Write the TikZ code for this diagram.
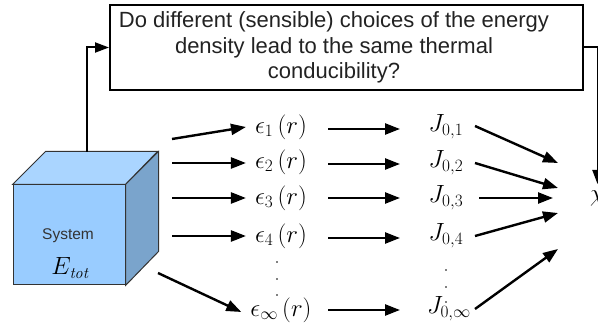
\documentclass[tikz,border=0pt]{standalone}
\usepackage{fontspec}
\newfontfamily\arialfont{Liberation Sans}
\usetikzlibrary{arrows.meta}
\definecolor{cubefront}{HTML}{99CCFF}
\definecolor{cubetopc}{HTML}{AAD5FF}
\definecolor{cubeside}{HTML}{7AA4CC}
\definecolor{cubeedge}{HTML}{333333}
\definecolor{txtdark}{HTML}{222222}
\begin{document}
\begin{tikzpicture}[x=1pt,y=-1pt,
  arr/.style={line width=2.4pt,-{Triangle[length=15pt,width=11pt]}},
  conn/.style={line width=2pt,-{Triangle[length=14pt,width=10pt]}},
  epslbl/.style={inner sep=0pt,font=\fontsize{26}{30}\selectfont},
  jlbl/.style={inner sep=0pt,font=\fontsize{25}{29}\selectfont},
  dotmark/.style={fill=black,draw=none},
]
\useasboundingbox (0,0) rectangle (598,331);

% question box
\node[draw=black,line width=2pt,minimum width=473pt,minimum height=85pt,inner sep=0pt] (q) at (346.5,47.5) {};
\node[align=center,inner sep=0pt,text=txtdark,font=\arialfont\fontsize{22}{25.5}\selectfont] (qtext) at (334,47.5)
  {Do different (sensible) choices of the energy\\density lead to the same thermal\\conducibility?};

% cube
\node[draw=cubeedge,fill=cubefront,line width=1pt,minimum width=112pt,minimum height=100pt,inner sep=0pt] (cube) at (69,235) {};
\draw[cubeedge,line width=1pt,fill=cubetopc] (cube.north west) -- ++(33,-33) -- ++(112,0) -- (cube.north east) -- cycle;
\draw[cubeedge,line width=1pt,fill=cubeside] (cube.north east) -- ++(33,-33) -- ++(0,100) -- (cube.south east) -- cycle;
\node[inner sep=0pt,text=cubeedge,font=\arialfont\fontsize{15.5}{18}\selectfont] (sys) at (68,236) {System};
\node[inner sep=0pt,font=\fontsize{23}{26}\selectfont] (etot) at (70,268) {$E_{\mathit{tot}}$};

% epsilon labels
\node[epslbl] (e1) at (281,127) {$\epsilon_1\mkern3mu(r)$};
\node[epslbl] (e2) at (281,162) {$\epsilon_2\mkern3mu(r)$};
\node[epslbl] (e3) at (281,198) {$\epsilon_3\mkern3mu(r)$};
\node[epslbl] (e4) at (281,236) {$\epsilon_4\mkern3mu(r)$};
\node[epslbl] (e5) at (281,310) {$\epsilon_\infty\mkern3mu(r)$};

% J labels
\node[jlbl] (j1) at (446,127) {$J_{0,1}$};
\node[jlbl] (j2) at (446,163) {$J_{0,2}$};
\node[jlbl] (j3) at (446,198) {$J_{0,3}$};
\node[jlbl] (j4) at (446,236) {$J_{0,4}$};
\node[jlbl] (j5) at (449,309) {$J_{0,\infty}$};

% chi (cut by the page edge, as in the reference)
\node[epslbl,anchor=west] (chi) at (590,199) {$\chi$};

% vertical dots
\foreach \yy in {262,279,295} \fill[dotmark] (277,\yy) circle (0.9pt);
\foreach \yy in {270,287,302} \fill[dotmark] (446,\yy) circle (0.9pt);

% start / end coordinates
\coordinate (cubetop) at (87,152);
\coordinate (s1) at (172,139);
\coordinate (s2) at (172,163);
\coordinate (s3) at (172,198);
\coordinate (s4) at (172,236);
\coordinate (s5) at (158,273);
\coordinate (c1) at (558,163);
\coordinate (c2) at (558,188);
\coordinate (c3) at (553,198);
\coordinate (c4) at (558,213);
\coordinate (c5) at (558,249);
\coordinate (chitop) at (597.5,184);

% connectors to the question box
\draw[conn] (cubetop) |- (q.west);
\draw[conn] (q.east) -| (chitop);

% cube -> epsilon
\draw[arr] (s1) -- ([xshift=-9pt]e1.west);
\draw[arr] (s2) -- ([xshift=-9pt]e2.west |- s2);
\draw[arr] (s3) -- ([xshift=-9pt]e3.west |- s3);
\draw[arr] (s4) -- ([xshift=-9pt]e4.west |- s4);
\draw[arr] (s5) -- ([xshift=-9pt,yshift=-2pt]e5.west);

% epsilon -> J
\draw[arr] ([xshift=47pt,yshift=-2pt]e1.center) -- ([xshift=-46pt,yshift=-2pt]e1.center -| j1.center);
\draw[arr] ([xshift=47pt,yshift=-2pt]e2.center) -- ([xshift=-46pt,yshift=-2pt]e2.center -| j2.center);
\draw[arr] ([xshift=47pt]e3.center) -- ([xshift=-46pt]e3.center -| j3.center);
\draw[arr] ([xshift=47pt,yshift=-2pt]e4.center) -- ([xshift=-46pt,yshift=-2pt]e4.center -| j4.center);
\draw[arr] ([xshift=47pt]e5.center) -- ([xshift=-49pt]e5.center -| j5.center);

% J -> chi
\draw[arr] ([xshift=29pt,yshift=1pt]j1.center) -- (c1);
\draw[arr] ([xshift=29pt]j2.center) -- (c2);
\draw[arr] ([xshift=33pt]j3.center) -- (c3);
\draw[arr] ([xshift=29pt]j4.center) -- (c4);
\draw[arr] ([xshift=26pt]j5.center) -- (c5);
\end{tikzpicture}
\end{document}
